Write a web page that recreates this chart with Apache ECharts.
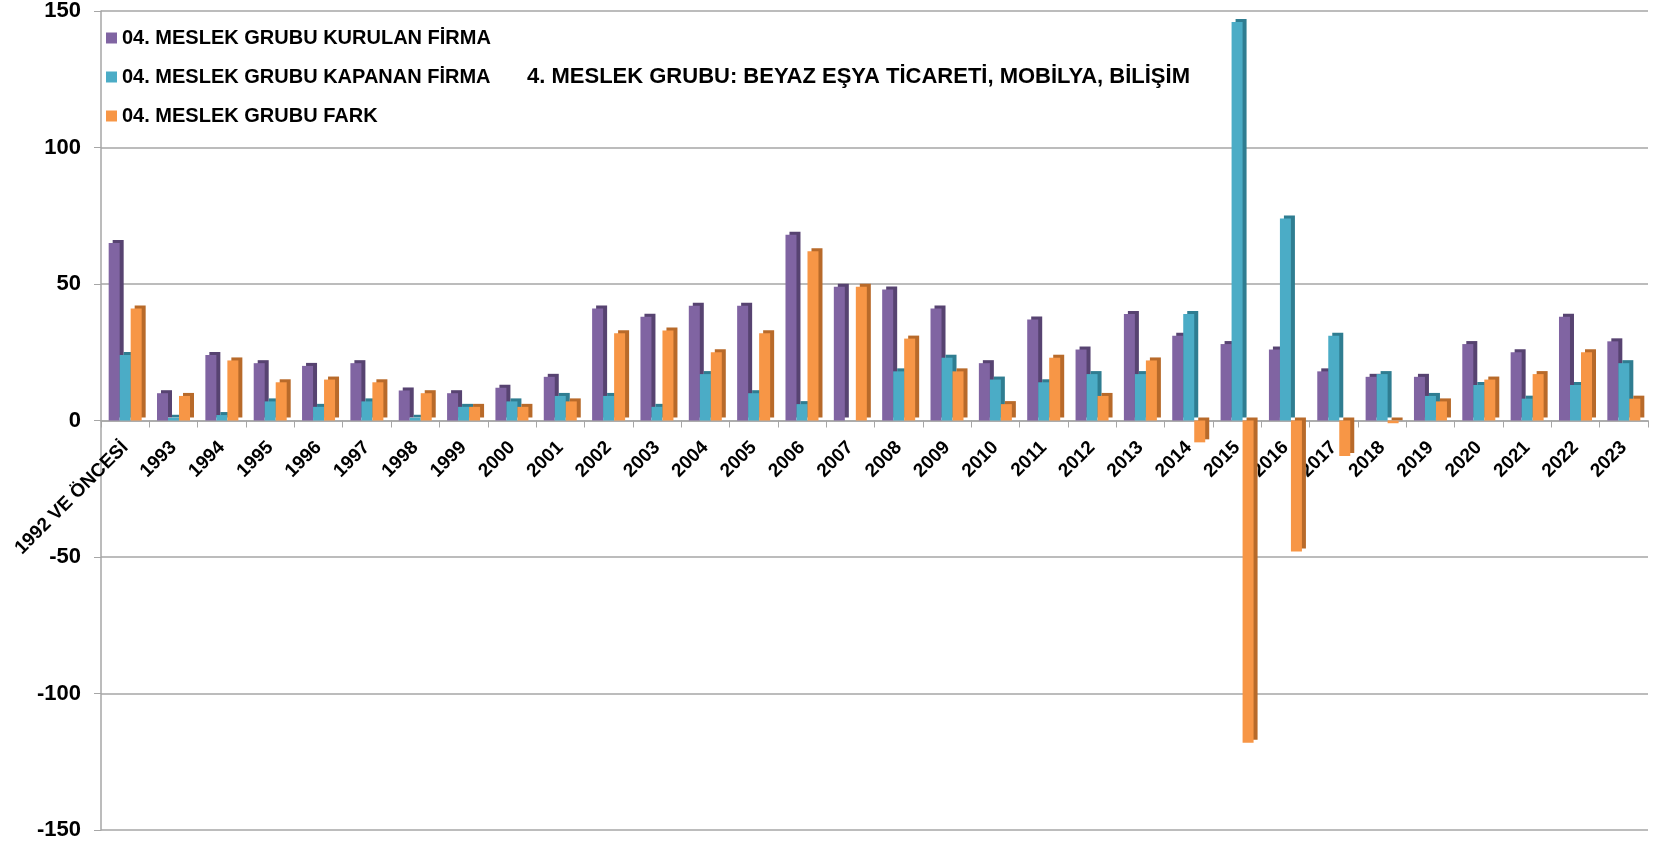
<!DOCTYPE html>
<html>
<head>
<meta charset="utf-8">
<script src="https://cdn.jsdelivr.net/npm/echarts@6/dist/echarts.min.js"></script>
<style>
  html, body { margin: 0; padding: 0; background: #fff; }
  #chart { width: 1663px; height: 841px; }
</style>
</head>
<body>
<div id="chart"></div>
<script>
// kategoriler (yıllar)
var years = ['1992 VE ÖNCESİ', '1993', '1994', '1995', '1996', '1997', '1998', '1999', '2000', '2001',
  '2002', '2003', '2004', '2005', '2006', '2007', '2008', '2009', '2010', '2011',
  '2012', '2013', '2014', '2015', '2016', '2017', '2018', '2019', '2020', '2021',
  '2022', '2023'];

var kurulan = [65, 10, 24, 21, 20, 21, 11, 10, 12, 16, 41, 38, 42, 42, 68, 49, 48, 41, 21, 37,
  26, 39, 31, 28, 26, 18, 16, 16, 28, 25, 38, 29];
var kapanan = [24, 1, 2, 7, 5, 7, 1, 5, 7, 9, 9, 5, 17, 10, 6, 0, 18, 23, 15, 14,
  17, 17, 39, 146, 74, 31, 17, 9, 13, 8, 13, 21];
var fark = [41, 9, 22, 14, 15, 14, 10, 5, 5, 7, 32, 33, 25, 32, 62, 49, 30, 18, 6, 23,
  9, 22, -8, -118, -48, -13, -1, 7, 15, 17, 25, 8];

var seriesNames = ['04. MESLEK GRUBU KURULAN FİRMA', '04. MESLEK GRUBU KAPANAN FİRMA', '04. MESLEK GRUBU FARK'];
var yTicks = { min: -150, max: 150, step: 50 };

var font = '"Liberation Sans", Arial, sans-serif';
var gridTop = 11, gridBottom = 11;
var chartH = 841;

function bar(name, data, color, side) {
  return {
    name: name,
    type: 'bar',
    data: data,
    barWidth: 11,
    barGap: '0%',
    itemStyle: {
      color: color,
      shadowColor: side, // sahte 3D yan yüz
      shadowBlur: 0,
      shadowOffsetX: 4,
      shadowOffsetY: -3
    }
  };
}

var chart = echarts.init(document.getElementById('chart'));
// x ekseni sıfır çizgisine taşınıyor (grid ortası)
var zeroOffset = -(chartH - gridTop - gridBottom) / 2;

var option = {
  animation: false,
  title: {
    text: '4. MESLEK GRUBU: BEYAZ EŞYA TİCARETİ, MOBİLYA, BİLİŞİM',
    left: 527,
    top: 66,
    padding: 0,
    textStyle: { fontFamily: font, fontSize: 22, fontWeight: 'bold', color: '#000', lineHeight: 22 }
  },
  legend: {
    orient: 'vertical',
    left: 106,
    top: 28,
    padding: 0,
    itemWidth: 11,
    itemHeight: 11,
    itemGap: 19,
    icon: 'rect',
    textStyle: { fontFamily: font, fontSize: 20, fontWeight: 'bold', color: '#000', lineHeight: 20 },
    data: seriesNames
  },
  grid: { left: 101, right: 15, top: gridTop, bottom: gridBottom, outerBoundsMode: 'none' },
  xAxis: {
    type: 'category',
    data: years,
    position: 'bottom',
    offset: zeroOffset,
    axisLine: { onZero: false, lineStyle: { color: '#A6A6A6', width: 1.5 } },
    axisTick: { show: true, length: 7, lineStyle: { color: '#A6A6A6' } },
    axisLabel: {
      interval: 0,
      rotate: 45,
      margin: 24,
      fontFamily: font,
      fontSize: 19,
      fontWeight: 'bold',
      color: '#000'
    }
  },
  yAxis: {
    type: 'value',
    min: yTicks.min,
    max: yTicks.max,
    interval: yTicks.step,
    axisLine: { show: true, lineStyle: { color: '#A6A6A6', width: 1.5 } },
    axisTick: { show: true, length: 7, lineStyle: { color: '#A6A6A6' } },
    axisLabel: { fontFamily: font, fontSize: 22, fontWeight: 'bold', color: '#000', margin: 20 },
    splitLine: { lineStyle: { color: '#A6A6A6', width: 1.5 } }
  },
  series: [
    bar(seriesNames[0], kurulan, '#8064A2', '#574371'),
    bar(seriesNames[1], kapanan, '#4BACC6', '#2F7D91'),
    bar(seriesNames[2], fark, '#F79646', '#B86A2A')
  ]
};
chart.setOption(option);
</script>
</body>
</html>
